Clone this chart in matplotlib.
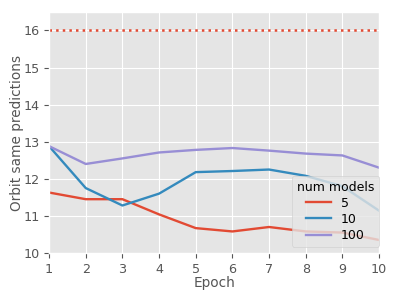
import numpy as np
import matplotlib
matplotlib.use("Agg")
import matplotlib.pyplot as plt

plt.style.use("ggplot")

epochs = [1, 2, 3, 4, 5, 6, 7, 8, 9, 10]
same_5 = [11.63, 11.45, 11.45, 11.04, 10.67, 10.58, 10.70, 10.58, 10.55, 10.35]
same_10 = [12.88, 11.75, 11.28, 11.60, 12.18, 12.21, 12.25, 12.08, 11.80, 11.14]
same_100 = [12.88, 12.40, 12.55, 12.71, 12.78, 12.83, 12.76, 12.68, 12.63, 12.30]
baseline = 16

fig, ax = plt.subplots(figsize=(3.99, 2.99), dpi=100)
ax.axhline(baseline, color="#E24A33", linestyle=":", linewidth=1.8)
ax.plot(epochs, same_5, color="#E24A33", linewidth=1.7, label="5")
ax.plot(epochs, same_10, color="#348ABD", linewidth=1.7, label="10")
ax.plot(epochs, same_100, color="#988ED5", linewidth=1.7, label="100")

ax.set_xlim(1, 10)
ax.set_ylim(10, 16.5)
ax.set_xticks(epochs)
ax.set_xlabel("Epoch", fontsize=9.8, labelpad=0.5)
ax.set_ylabel("Orbit same predictions", fontsize=9.8, labelpad=-1)
ax.tick_params(labelsize=9.2)
leg = ax.legend(title="num models", loc="lower right", bbox_to_anchor=(1.0, 0.025),
                borderaxespad=0, fontsize=9, title_fontsize=9, labelspacing=0.25)

plt.subplots_adjust(left=0.123, right=0.95, top=0.96, bottom=0.154)
plt.savefig("out.png")
